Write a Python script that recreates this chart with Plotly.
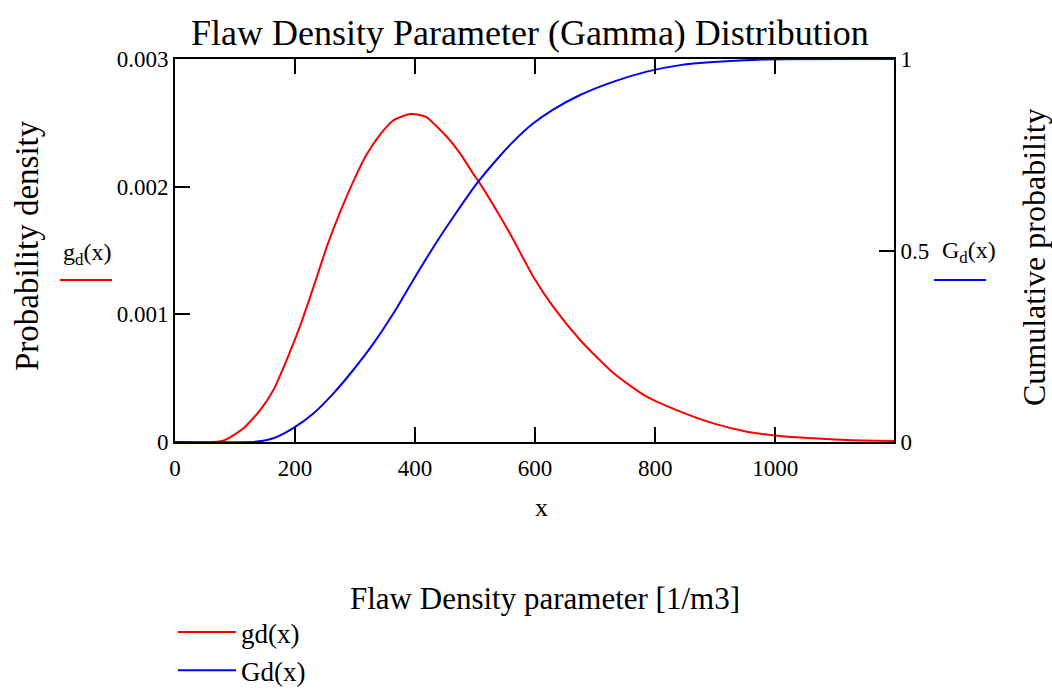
import plotly.graph_objects as go

# ---- data ----
x_pdf = [0, 80, 114, 142, 164, 186, 208, 231, 253, 275, 297, 319, 342, 364, 378,
         392, 408, 419, 453, 475, 497, 508, 542, 564, 597, 630, 675, 731, 786,
         842, 897, 953, 1008, 1064, 1119, 1198]
gd = [0, 0.00001, 0.000107, 0.00025, 0.000407, 0.000642, 0.000903, 0.001217,
      0.00153, 0.0018, 0.00204, 0.00225, 0.00241, 0.00252, 0.00255, 0.002569,
      0.002562, 0.002545, 0.002391, 0.002261, 0.0021, 0.002026, 0.001765,
      0.001582, 0.001295, 0.00106, 0.000799, 0.000538, 0.000355, 0.000238,
      0.000146, 0.000081, 0.000047, 0.000029, 0.000016, 0.000008]

x_cdf = [0, 136, 164, 197, 231, 264, 297, 331, 364, 397, 431, 464, 503, 542,
         564, 597, 630, 675, 731, 786, 842, 897, 986, 1198]
Gd = [0, 0.001, 0.0096, 0.036, 0.075, 0.127, 0.188, 0.258, 0.336, 0.423, 0.51,
      0.588, 0.675, 0.748, 0.785, 0.832, 0.868, 0.906, 0.941, 0.967, 0.984,
      0.992, 0.999, 1.0]

x_ticks = [0, 200, 400, 600, 800, 1000]
y1_ticks = [0, 0.001, 0.002, 0.003]
y1_text = ["0", "0.001", "0.002", "0.003"]
y2_ticks = [0, 0.5, 1]
y2_text = ["0", "0.5", "1"]

FONT = "Liberation Serif"
RED = "#ff0000"
BLUE = "#0000ff"

W, H = 1052, 691
L, T = 175, 59
pw, ph = 719, 383
R = W - L - pw
B = H - T - ph

fig = go.Figure()
fig.add_trace(go.Scatter(x=x_pdf, y=gd, mode="lines", name="gd(x)",
                         legendgroup="a",
                         line=dict(color=RED, width=2, shape="spline", smoothing=0.6),
                         yaxis="y"))
fig.add_trace(go.Scatter(x=x_cdf, y=Gd, mode="lines", name="Gd(x)",
                         legendgroup="b",
                         line=dict(color=BLUE, width=2, shape="spline", smoothing=0.6),
                         yaxis="y2"))

axis_common = dict(showgrid=False, zeroline=False, showline=True, linecolor="black",
                   linewidth=2, ticks="inside", ticklen=15, tickwidth=2,
                   tickcolor="black",
                   tickfont=dict(family=FONT, size=23, color="black"))


def px2paper(px, py):
    return (px - L) / pw, (H - B - py) / ph


lx, ly = px2paper(173, 608)

fig.update_layout(
    width=W, height=H,
    margin=dict(l=L, r=R, t=T, b=B, autoexpand=False),
    paper_bgcolor="white", plot_bgcolor="white",
    font=dict(family=FONT, color="black"),
    showlegend=True,
    legend=dict(x=lx, y=ly, xanchor="left", yanchor="top",
                font=dict(family=FONT, size=27, color="black"),
                tracegroupgap=0, itemwidth=58, bgcolor="rgba(0,0,0,0)"),
    xaxis=dict(range=[0, 1198], tickvals=x_ticks, mirror="ticks",
               ticklabelstandoff=4, **axis_common),
    yaxis=dict(range=[0, 0.003], tickvals=y1_ticks, ticktext=y1_text,
               **axis_common),
    yaxis2=dict(range=[0, 1], tickvals=y2_ticks, ticktext=y2_text,
                overlaying="y", side="right", **axis_common),
)

# annotation positions given in reference screen pixels
ann = [
    dict(text="Flaw Density Parameter (Gamma) Distribution", x=530, y=33, size=36),
    dict(text="Probability density", x=27, y=246, textangle=-90, size=33),
    dict(text="Cumulative probability", x=1034, y=257, textangle=-90, size=32),
    dict(text="x", x=541, y=507, size=26),
    dict(text="Flaw Density parameter [1/m3]", x=545, y=598, size=31),
    dict(text="g<sub>d</sub>(x)", x=87, y=254, size=24),
    dict(text="G<sub>d</sub>(x)", x=969, y=252, size=24),
]

for a in ann:
    xp, yp = px2paper(a.pop("x"), a.pop("y"))
    size = a.pop("size")
    fig.add_annotation(x=xp, y=yp, xref="paper", yref="paper", showarrow=False,
                       xanchor="center", yanchor="middle",
                       font=dict(family=FONT, size=size, color="black"), **a)

for (x0, x1, yy, col) in [(60, 112, 280, RED), (934, 986, 280, BLUE)]:
    a0, b0 = px2paper(x0, yy)
    a1, _ = px2paper(x1, yy)
    fig.add_shape(type="line", xref="paper", yref="paper", x0=a0, x1=a1, y0=b0, y1=b0,
                  line=dict(color=col, width=2))

fig.write_html(
    "out.html",
    config={"displayModeBar": False},
    post_script="document.body.style.margin='0';"
                "document.documentElement.style.overflow='hidden';"
                "document.body.style.overflow='hidden';",
)
